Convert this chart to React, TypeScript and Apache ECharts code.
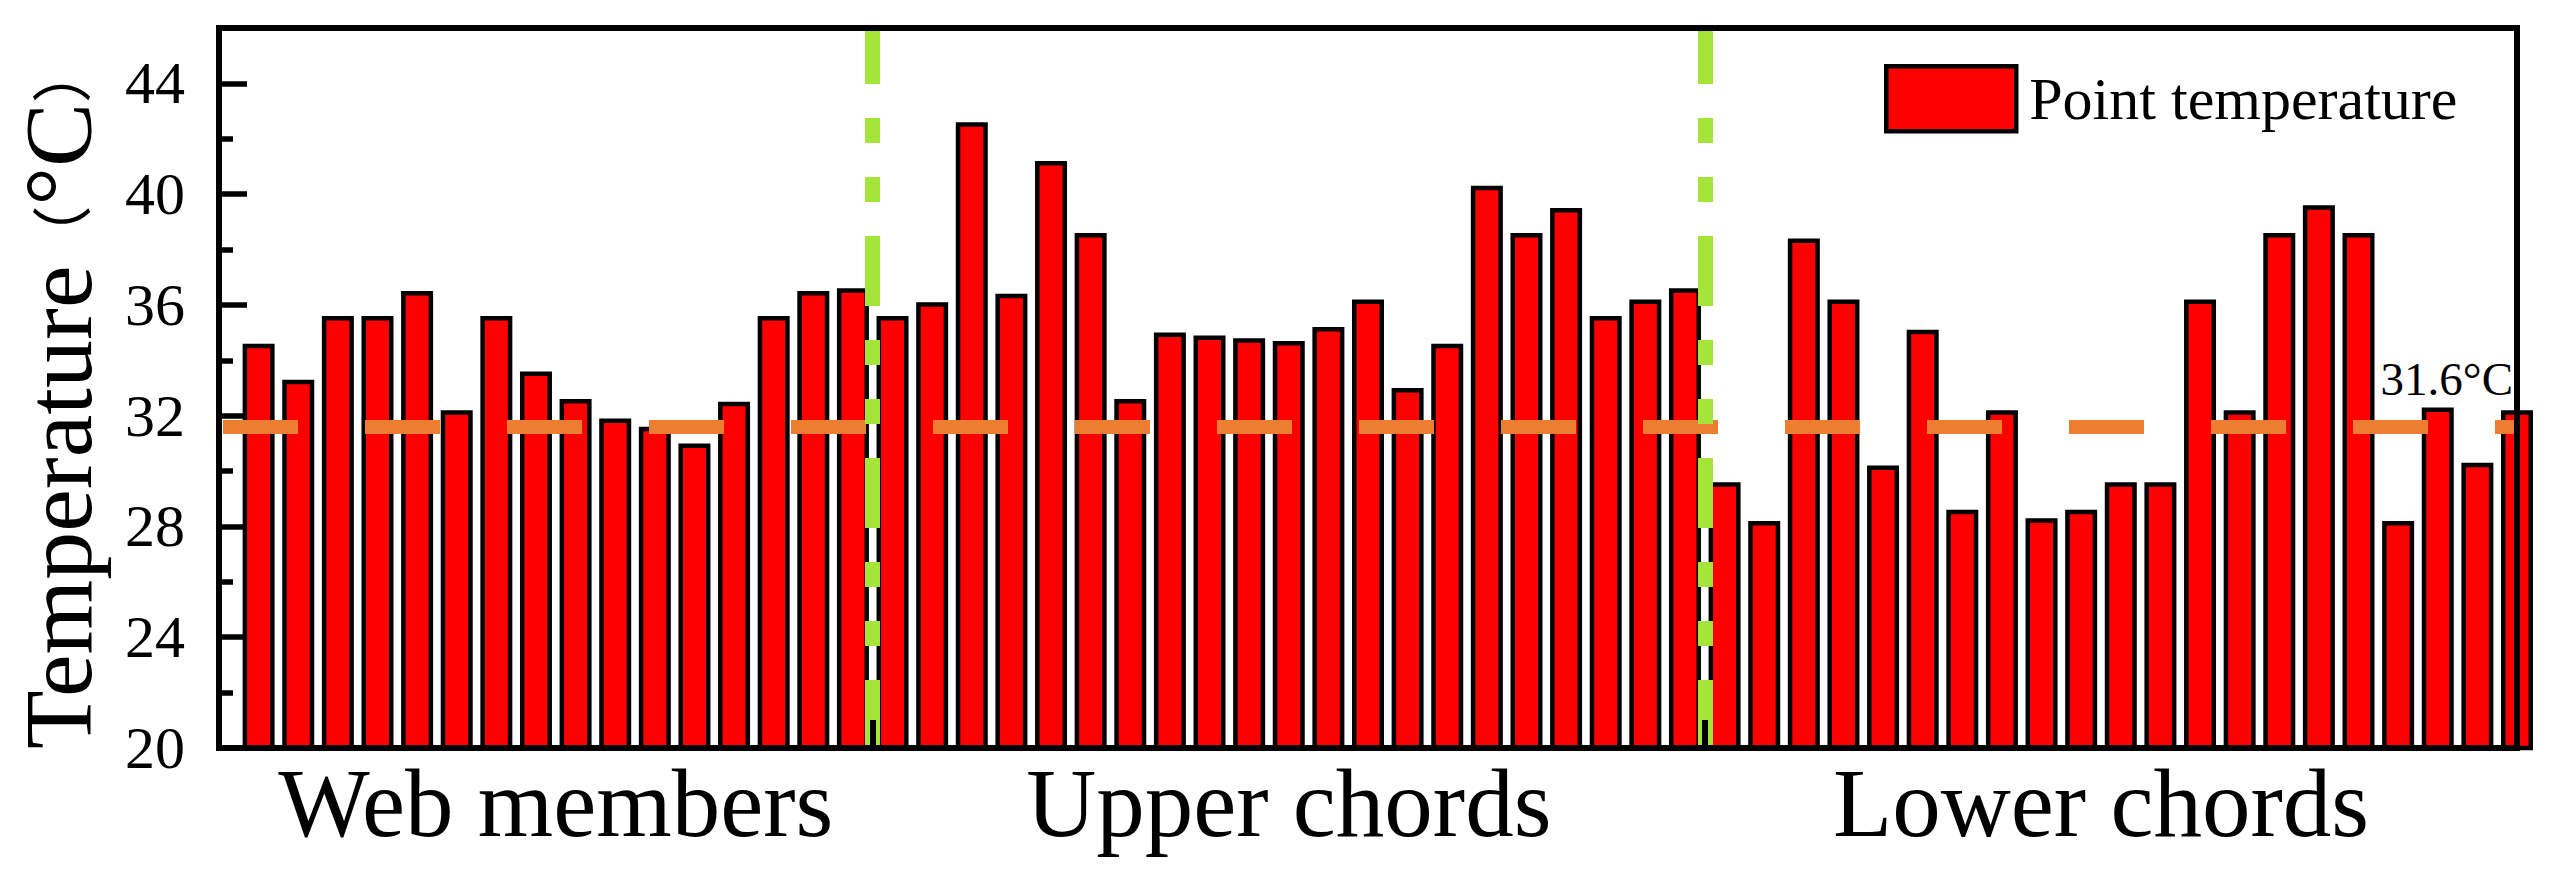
import React, { useEffect, useRef } from "react";
import * as echarts from "echarts";

const webMembers = [34.6, 33.3, 35.6, 35.6, 36.5, 32.2, 35.6, 33.6, 32.6, 31.9, 31.6, 31.0, 32.5, 35.6, 36.5, 36.6];
const upperChords = [35.6, 36.1, 42.6, 36.4, 41.2, 38.6, 32.6, 35.0, 34.9, 34.8, 34.7, 35.2, 36.2, 33.0, 34.6, 40.3, 38.6, 39.5, 35.6, 36.2, 36.6];
const lowerChords = [29.6, 28.2, 38.4, 36.2, 30.2, 35.1, 28.6, 32.2, 28.3, 28.6, 29.6, 29.6, 36.2, 32.2, 38.6, 39.6, 38.6, 28.2, 32.3, 30.3, 32.2];

const sectionNames = ["Web members", "Upper chords", "Lower chords"];
const sectionCenters = [8.5, 27, 47.5];
const separators = [16.5, 37.5];
const yTicks = [20, 24, 28, 32, 36, 40, 44];
const yMinorTicks = [22, 26, 30, 34, 38, 42];
const averageTemp = 31.6;
const seriesName = "Point temperature";
const yTitleMain = "Temperature";
const yTitleUnit = "°C";

const FONT = '"Liberation Serif", "Times New Roman", "Noto Sans CJK SC", serif';

export default function App() {
  const ref = useRef<HTMLDivElement>(null);
  useEffect(() => {
    if (!ref.current) return;
    const chart = echarts.init(ref.current, null, { renderer: "svg" });
    const values = [...webMembers, ...upperChords, ...lowerChords];
    const data = values.map((v, i) => [i + 1, v]);
    const xMax = values.length;

    chart.setOption({
      animation: false,
      backgroundColor: "#fff",
      grid: { left: 219, right: 32, top: 28, bottom: 125, containLabel: false, outerBoundsMode: "none" },
      legend: {
        show: true,
        left: 1879,
        top: 59,
        icon: "rect",
        itemWidth: 130,
        itemHeight: 65,
        textStyle: { fontFamily: FONT, fontSize: 60, color: "#000", padding: [0, 0, 0, 8] },
        data: [{ name: seriesName, itemStyle: { color: "#ff0000", borderColor: "#000", borderWidth: 4.5 } }],
      },
      xAxis: [
        {
          type: "value",
          min: 0,
          max: xMax,
          position: "bottom",
          z: 10,
          splitLine: { show: false },
          axisLine: { show: true, lineStyle: { color: "#000", width: 6, cap: "square" } },
          axisTick: { show: true, inside: true, length: 28, customValues: separators, lineStyle: { color: "#000", width: 6 } },
          axisLabel: {
            show: true,
            customValues: sectionCenters,
            formatter: (v: number) => sectionNames[sectionCenters.indexOf(v)] ?? "",
            fontFamily: FONT,
            fontSize: 97,
            color: "#000",
            margin: 7,
          },
        },
        {
          type: "value",
          min: 0,
          max: xMax,
          position: "top",
          z: 10,
          splitLine: { show: false },
          axisLine: { show: true, lineStyle: { color: "#000", width: 6, cap: "square" } },
          axisTick: { show: false },
          axisLabel: { show: false },
        },
      ],
      yAxis: [
        {
          type: "value",
          min: 20,
          max: 46,
          position: "left",
          z: 10,
          splitLine: { show: false },
          axisLine: { show: true, lineStyle: { color: "#000", width: 6, cap: "square" } },
          axisTick: { show: true, inside: true, length: 28, customValues: yTicks, lineStyle: { color: "#000", width: 5.5 } },
          axisLabel: { show: true, customValues: yTicks, fontFamily: FONT, fontSize: 60, color: "#000", margin: 34 },
        },
        {
          type: "value",
          min: 20,
          max: 46,
          position: "left",
          z: 10,
          splitLine: { show: false },
          axisLine: { show: false },
          axisTick: { show: true, inside: true, length: 14, customValues: yMinorTicks, lineStyle: { color: "#000", width: 5.5 } },
          axisLabel: { show: false },
        },
        {
          type: "value",
          min: 20,
          max: 46,
          position: "right",
          z: 10,
          splitLine: { show: false },
          axisLine: { show: true, lineStyle: { color: "#000", width: 6, cap: "square" } },
          axisTick: { show: false },
          axisLabel: { show: false },
        },
      ],
      series: [
        {
          name: seriesName,
          type: "bar",
          data,
          barWidth: 32,
          clip: true,
          z: 2,
          itemStyle: { color: "#ff0000", borderColor: "#000", borderWidth: 4.5 },
          markLine: {
            silent: true,
            symbol: ["none", "none"],
            z: 4,
            lineStyle: { color: "#ED7D31", width: 14, type: [75, 67], dashOffset: 138.4, cap: "butt" },
            label: {
              show: true,
              position: "insideEndTop",
              formatter: averageTemp + "°C",
              fontFamily: FONT,
              fontSize: 47,
              color: "#000",
              distance: [4, 24],
            },
            emphasis: { disabled: true },
            data: [[{ coord: [0, averageTemp] }, { coord: [xMax, averageTemp] }]],
          },
        },
        {
          name: "separators",
          type: "line",
          data: [],
          z: 6,
          markLine: {
            silent: true,
            symbol: ["none", "none"],
            z: 6,
            lineStyle: { color: "#A5E53B", width: 15, type: [70, 34, 25, 34, 25, 34], dashOffset: 14, cap: "butt" },
            label: { show: false },
            emphasis: { disabled: true },
            data: separators.map((s) => [{ coord: [s, 46] }, { coord: [s, 20] }]),
          },
        },
      ],
      graphic: [
        {
          type: "text",
          x: 58,
          y: 396,
          rotation: Math.PI / 2,
          style: {
            text: yTitleMain + "{p|（}" + yTitleUnit + "{p|）}",
            fontFamily: FONT,
            fontSize: 96,
            fill: "#000",
            align: "center",
            verticalAlign: "middle",
            rich: {
              p: { fontFamily: '"Noto Sans CJK SC", sans-serif', fontSize: 60, verticalAlign: "middle", fill: "#000" },
            },
          },
        },
      ],
    });
    return () => chart.dispose();
  }, []);
  return <div ref={ref} style={{ position: "fixed", left: 0, top: 0, width: 2549, height: 873 }} />;
}
